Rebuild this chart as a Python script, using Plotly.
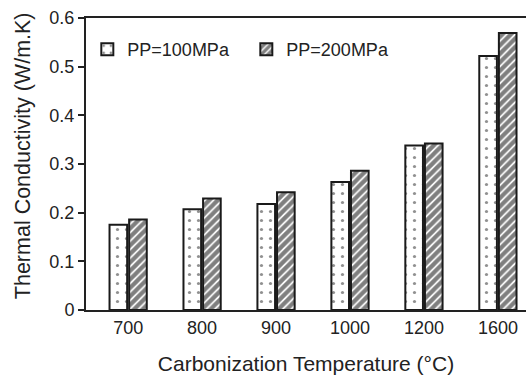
import plotly.graph_objects as go

categories = ["700", "800", "900", "1000", "1200", "1600"]
pp100 = [0.175, 0.207, 0.218, 0.263, 0.338, 0.522]
pp200 = [0.186, 0.229, 0.242, 0.286, 0.342, 0.569]

fig = go.Figure()
fig.add_trace(go.Bar(
    x=categories, y=pp100, name="PP=100MPa",
    marker=dict(color="white", line=dict(color="#1a1a1a", width=2),
                pattern=dict(shape=".", size=9, solidity=0.1, fgcolor="#222", bgcolor="white")),
))
fig.add_trace(go.Bar(
    x=categories, y=pp200, name="PP=200MPa",
    marker=dict(color="white", line=dict(color="#1a1a1a", width=2),
                pattern=dict(shape="/", size=6, solidity=0.7, fgcolor="#000", bgcolor="white")),
))

font = "Liberation Sans, Arial, sans-serif"
fig.update_layout(
    width=526, height=375,
    margin=dict(l=86, r=0, t=18, b=65),
    paper_bgcolor="white", plot_bgcolor="white",
    barmode="group", bargap=0.47, bargroupgap=0.1,
    font=dict(family=font, size=18, color="#222"),
    showlegend=True,
    legend=dict(orientation="h", x=0.003, y=0.955, xanchor="left", yanchor="top",
                bgcolor="rgba(0,0,0,0)", font=dict(size=18), itemwidth=30,
                entrywidthmode="pixels", entrywidth=114),
    xaxis=dict(type="category", range=[-0.57, 5.38], showline=True, linecolor="#222",
               linewidth=2, mirror=True, ticks="", showgrid=False,
               title=dict(text="Carbonization Temperature (°C)", font=dict(size=21), standoff=20)),
    yaxis=dict(range=[0, 0.6], dtick=0.1, tickformat=".1~f", showline=True, linecolor="#222",
               linewidth=2, ticks="outside", ticklen=6, tickwidth=2, tickcolor="#222",
               showgrid=False, zeroline=False),
    annotations=[dict(text="Thermal Conductivity (W/m.K)", textangle=-90,
                      xref="paper", yref="paper", x=-0.143, y=0.527,
                      xanchor="center", yanchor="middle", showarrow=False,
                      font=dict(size=21.5, family=font, color="#222"))],
)
fig.write_html("out.html")
